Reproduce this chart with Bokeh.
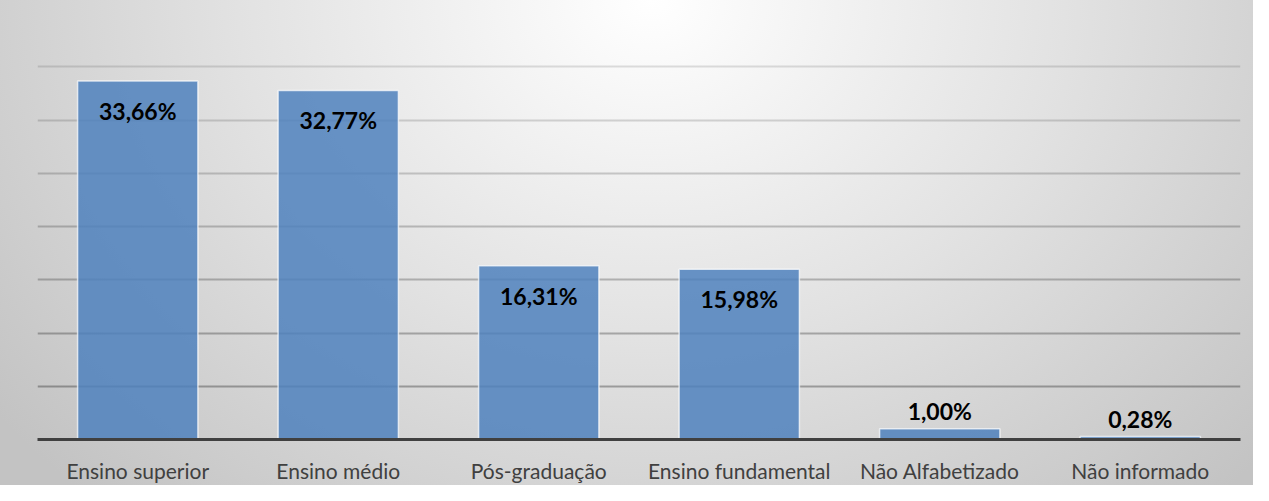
from bokeh.plotting import figure
from bokeh.models import ColumnDataSource, Range1d, FixedTicker, Grid
from bokeh.core.properties import value
from bokeh.embed import file_html
from bokeh.resources import INLINE

categories = ["Ensino superior", "Ensino médio", "Pós-graduação",
              "Ensino fundamental", "Não Alfabetizado", "Não informado"]
values = [33.66, 32.77, 16.31, 15.98, 1.00, 0.28]
labels = ["33,66%", "32,77%", "16,31%", "15,98%", "1,00%", "0,28%"]
grid_ticks = [5, 10, 15, 20, 25, 30, 35, 40]

inside = [v >= 5 for v in values]
src_in = ColumnDataSource(dict(
    x=[c for c, i in zip(categories, inside) if i],
    y=[v for v, i in zip(values, inside) if i],
    t=[l for l, i in zip(labels, inside) if i]))
src_out = ColumnDataSource(dict(
    x=[c for c, i in zip(categories, inside) if not i],
    y=[v for v, i in zip(values, inside) if not i],
    t=[l for l, i in zip(labels, inside) if not i]))
src = ColumnDataSource(dict(x=categories, y=values))

p = figure(x_range=categories, y_range=Range1d(0, 40), width=1253, height=485,
           output_backend="svg", toolbar_location=None,
           min_border_left=37, min_border_right=13,
           min_border_top=13, min_border_bottom=40)

p.background_fill_alpha = 0
p.border_fill_alpha = 0
p.outline_line_color = None
p.styles = {"background": "radial-gradient(ellipse 66% 140% at 52% 0%, #ffffff 0%, #e2e2e2 50%, #c3c3c3 100%)"}

p.xgrid.grid_line_color = None
p.ygrid.grid_line_color = None
n = len(grid_ticks)
for k, t in enumerate(grid_ticks):
    g = Grid(dimension=1, ticker=FixedTicker(ticks=[t]),
             grid_line_color="#000000", grid_line_width=2,
             grid_line_alpha=0.30 - 0.21 * k / (n - 1))
    p.add_layout(g)

p.vbar(x="x", top="y", width=0.6, source=src,
       fill_color="#4F81BD", fill_alpha=0.85,
       line_color="#ffffff", line_alpha=0.7, line_width=1.5)

p.text(x="x", y="y", text="t", source=src_in, y_offset=30,
       text_align="center", text_baseline="middle",
       text_font=value("Lato"), text_font_style="bold",
       text_font_size="23px", text_color="#000000")
p.text(x="x", y="y", text="t", source=src_out, y_offset=-18,
       text_align="center", text_baseline="middle",
       text_font=value("Lato"), text_font_style="bold",
       text_font_size="23px", text_color="#000000")

p.yaxis.visible = False

ax = p.xaxis[0]
ax.axis_line_color = "#404040"
ax.axis_line_width = 3
ax.major_tick_line_color = None
ax.minor_tick_line_color = None
ax.major_label_text_font = "Lato"
ax.major_label_text_font_size = "21px"
ax.major_label_text_color = "#404040"
ax.major_label_standoff = 12

open("out.html", "w").write(file_html(p, INLINE))
